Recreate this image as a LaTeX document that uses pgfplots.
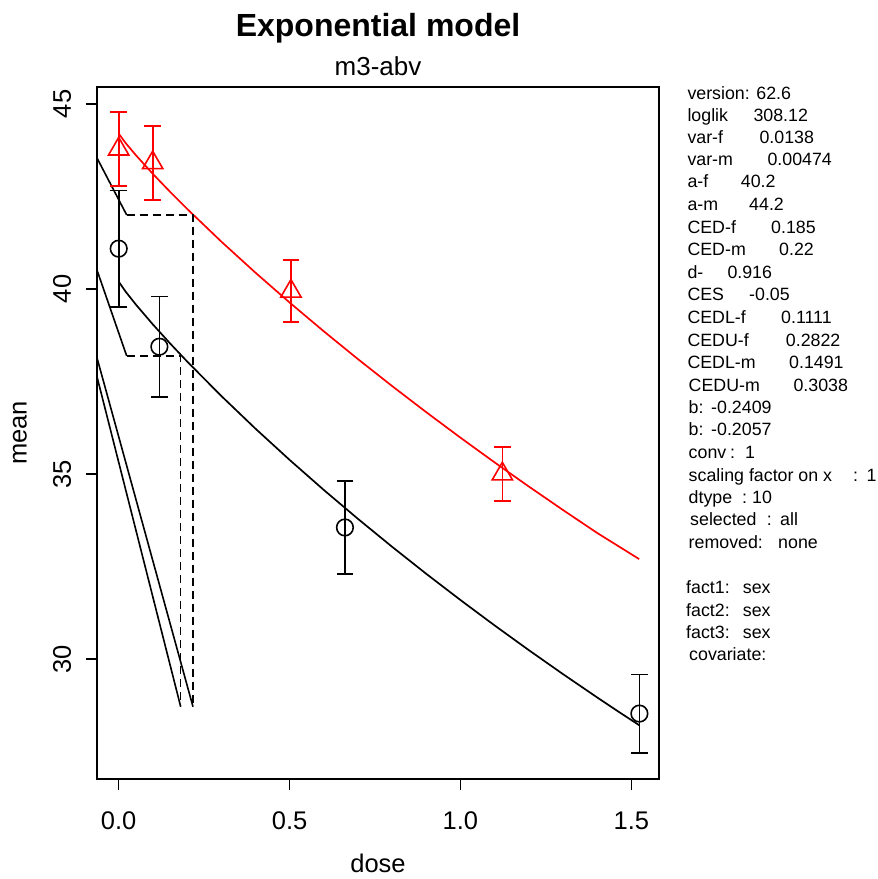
\documentclass[border=0pt]{standalone}
\usepackage{fontspec}
\setmainfont{Liberation Sans}
\usepackage{pgfplots}
\pgfplotsset{compat=1.18}
\newcommand{\pf}{\fontsize{17.8bp}{21bp}\selectfont}
\begin{document}
\begin{tikzpicture}
\path[use as bounding box] (-97bp,-100bp) rectangle (781bp,779bp);
\begin{axis}[
  at={(0,0)}, anchor=south west,
  scale only axis, width=562bp, height=692bp,
  xmin=-0.0635, xmax=1.581, ymin=26.757, ymax=45.459,
  axis line style={line width=1.7bp},
  xtick={0,0.5,1,1.5}, xticklabels={0.0,0.5,1.0,1.5},
  ytick={30,35,40,45}, yticklabels={30,35,40,45},
  tick align=outside, major tick length=11bp,
  tick style={line width=1.5bp, black},
  xtick pos=bottom, ytick pos=left,
  ticklabel style={font=\fontsize{25.5bp}{30bp}\selectfont},
  xticklabel style={anchor=base, inner sep=0pt, yshift=-39.3bp},
  yticklabel style={rotate=90, anchor=base, inner sep=0pt, yshift=15bp},
  xlabel={dose}, ylabel={mean},
  label style={font=\fontsize{25.5bp}{30bp}\selectfont, inner sep=0pt},
  xlabel style={at={(axis description cs:0.5,-0.1344)}, anchor=base},
  ylabel style={at={(axis description cs:-0.1251,0.5)}, anchor=base, rotate=0},
  clip=true,
]
% fitted curves
\addplot[red, line width=1.7bp, no marks] coordinates {
(0,44.2) (0.02,43.948) (0.05,43.619) (0.1,43.110) (0.15,42.629) (0.2,42.167)
(0.3,41.283) (0.4,40.442) (0.5,39.635) (0.6,38.857) (0.7,38.105) (0.8,37.377)
(0.9,36.670) (1.0,35.982) (1.1,35.313) (1.2,34.662) (1.3,34.027) (1.4,33.407) (1.523,32.70)};
\addplot[black, line width=1.7bp, no marks] coordinates {
(0,40.2) (0.02,39.932) (0.05,39.582) (0.1,39.042) (0.15,38.532) (0.2,38.043)
(0.3,37.111) (0.4,36.227) (0.5,35.382) (0.6,34.570) (0.7,33.788) (0.8,33.033)
(0.9,32.302) (1.0,31.594) (1.1,30.907) (1.2,30.240) (1.3,29.592) (1.4,28.962) (1.46,28.592) (1.523,28.211)};
% CED lines
\addplot[black, line width=1.6bp, no marks] coordinates {(-0.0635,43.54) (0.0234,42.0)};
\addplot[black, line width=1.6bp, no marks] coordinates {(-0.0635,40.51) (0.0234,38.19)};
\addplot[black, line width=1.6bp, no marks] coordinates {(-0.0635,38.14) (0.2174,28.71)};
\addplot[black, line width=1.6bp, no marks] coordinates {(-0.0635,37.63) (0.1814,28.71)};
\addplot[black, line width=1.6bp, no marks, dash pattern=on 8bp off 5bp] coordinates {(0.0234,42.0) (0.2174,42.0) (0.2174,28.71)};
\addplot[black, line width=1.6bp, no marks, dash pattern=on 8bp off 5bp] coordinates {(0.0234,38.19) (0.1814,38.19) (0.1814,28.71)};
% data with error bars
\addplot[red, only marks, mark=triangle, mark size=11.7bp, mark options={line width=1.6bp, solid},
  error bars/.cd, y dir=both, y explicit,
  error bar style={line width=1.6bp, red},
  error mark=|,
  error mark options={red, mark size=8.3bp, line width=1.8bp}]
  coordinates {
  (0,43.78) +- (0,0.995)
  (0.0995,43.41) +- (0,1.0)
  (0.504,39.94) +- (0,0.84)
  (1.1226,35.0) +- (0,0.74)
  };
\addplot[black, only marks, mark=o, mark size=8.3bp, mark options={line width=1.6bp, solid},
  error bars/.cd, y dir=both, y explicit,
  error bar style={line width=1.6bp, black},
  error mark=|,
  error mark options={black, mark size=8.3bp, line width=1.8bp}]
  coordinates {
  (0,41.09) +- (0,1.57)
  (0.119,38.44) +- (0,1.355)
  (0.662,33.555) +- (0,1.265)
  (1.5236,28.525) +- (0,1.055)
  };
\end{axis}
% titles
\node[anchor=base, inner sep=0pt, font=\fontsize{32bp}{36bp}\selectfont\bfseries] at (281bp,742bp) {Exponential model};
\node[anchor=base, inner sep=0pt, font=\fontsize{26bp}{30bp}\selectfont] at (281bp,703bp) {m3-abv};
% info panel
\begin{scope}[every node/.style={anchor=base west, inner sep=0pt, font=\pf}]
\node at (590.3bp,679.5bp) {version: 62.6};
\node at (590.3bp,657.8bp) {loglik}; \node at (656.3bp,657.8bp) {308.12};
\node at (590.3bp,635.2bp) {var-f}; \node at (662.3bp,635.2bp) {0.0138};
\node at (590.3bp,613.5bp) {var-m}; \node at (670.3bp,613.5bp) {0.00474};
\node at (590.3bp,591.8bp) {a-f}; \node at (643.7bp,591.8bp) {40.2};
\node at (590.3bp,568.5bp) {a-m}; \node at (652bp,568.5bp) {44.2};
\node at (590.3bp,545.8bp) {CED-f}; \node at (674bp,545.8bp) {0.185};
\node at (590.3bp,523.5bp) {CED-m}; \node at (682bp,523.5bp) {0.22};
\node at (590.3bp,500.8bp) {d-}; \node at (630.3bp,500.8bp) {0.916};
\node at (590.3bp,478.5bp) {CES}; \node at (652bp,478.5bp) {-0.05};
\node at (590.3bp,455.2bp) {CEDL-f}; \node at (684bp,455.2bp) {0.1111};
\node at (590.3bp,432.8bp) {CEDU-f}; \node at (688.7bp,432.8bp) {0.2822};
\node at (590.3bp,410.8bp) {CEDL-m}; \node at (692bp,410.8bp) {0.1491};
\node at (591.5bp,387.5bp) {CEDU-m}; \node at (696.3bp,387.5bp) {0.3038};
\node at (591.5bp,365.8bp) {b:}; \node at (614bp,365.8bp) {-0.2409};
\node at (591.5bp,343.5bp) {b:}; \node at (614bp,343.5bp) {-0.2057};
\node at (591.5bp,320.2bp) {conv}; \node at (633bp,320.2bp) {:}; \node at (648bp,320.2bp) {1};
\node at (591.5bp,297.5bp) {scaling factor on x}; \node at (756bp,297.5bp) {:}; \node at (769.5bp,297.5bp) {1};
\node at (591.5bp,275.2bp) {dtype}; \node at (645bp,275.2bp) {:}; \node at (655bp,275.2bp) {10};
\node at (593bp,253.5bp) {selected}; \node at (669.7bp,253.5bp) {:}; \node at (683bp,253.5bp) {all};
\node at (591.5bp,230.2bp) {removed:}; \node at (681bp,230.2bp) {none};
\node at (589bp,185bp) {fact1:}; \node at (645.7bp,185bp) {sex};
\node at (589bp,162bp) {fact2:}; \node at (645.7bp,162bp) {sex};
\node at (589bp,140.5bp) {fact3:}; \node at (645.7bp,140.5bp) {sex};
\node at (592bp,118.5bp) {covariate:};
\end{scope}
\end{tikzpicture}
\end{document}
